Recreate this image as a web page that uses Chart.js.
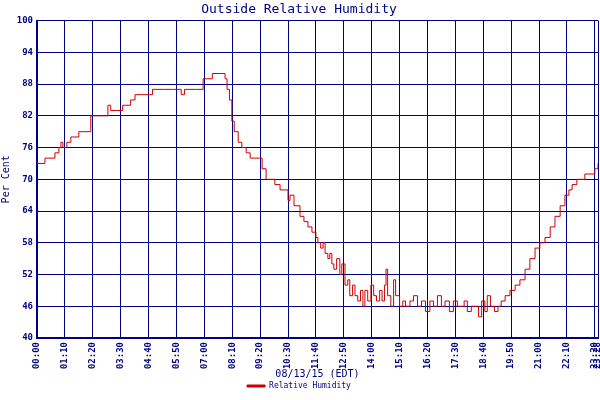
<!DOCTYPE html>
<html>
<head>
<meta charset="utf-8">
<script src="https://cdn.jsdelivr.net/npm/chart.js@4"></script>
<style>
  body { margin: 0; background: #fff; }
  #wrap { width: 600px; height: 400px; }
</style>
</head>
<body>
<div id="wrap"><canvas id="humChart"></canvas></div>
<script>
// minutes after midnight, 08/13/15
const minutes = [0, 10, 20, 30, 45, 55, 60, 65, 75, 85, 95, 105, 120, 135, 140, 160, 170, 178, 185, 200, 215, 222, 235, 246, 260, 283, 290, 320, 340, 359, 362, 370, 384, 400, 417, 425, 440, 459, 465, 472, 477, 483, 489, 495, 505, 514, 525, 535, 550, 558, 565, 575, 585, 597, 610, 622, 630, 635, 645, 660, 670, 680, 690, 700, 705, 712, 718, 723, 730, 735, 740, 745, 752, 760, 765, 773, 780, 785, 792, 798, 805, 812, 818, 823, 830, 838, 845, 852, 860, 866, 872, 876, 880, 888, 895, 900, 910, 918, 925, 936, 945, 955, 965, 975, 986, 995, 1005, 1015, 1024, 1035, 1045, 1055, 1062, 1072, 1080, 1090, 1099, 1108, 1116, 1124, 1130, 1138, 1148, 1157, 1165, 1175, 1187, 1200, 1212, 1225, 1237, 1250, 1262, 1275, 1288, 1300, 1313, 1325, 1335, 1343, 1355, 1363, 1375, 1383, 1393, 1400, 1404, 1408];
const humidity = [73, 73, 74, 74, 75, 76, 77, 76, 77, 78, 78, 79, 79, 82, 82, 82, 82, 84, 83, 83, 84, 84, 85, 86, 86, 86, 87, 87, 87, 87, 86, 87, 87, 87, 89, 89, 90, 90, 90, 89, 87, 85, 81, 79, 77, 76, 75, 74, 74, 74, 72, 70, 70, 69, 68, 68, 66, 67, 65, 63, 62, 61, 60, 59, 58, 57, 58, 56, 55, 56, 54, 53, 55, 52, 54, 50, 51, 48, 50, 48, 47, 49, 46, 49, 47, 50, 48, 47, 49, 47, 50, 53, 48, 46, 51, 48, 46, 47, 46, 47, 48, 46, 47, 45, 47, 46, 48, 46, 47, 45, 47, 46, 46, 47, 45, 46, 46, 44, 47, 45, 48, 46, 45, 46, 47, 48, 49, 50, 51, 53, 55, 57, 58, 59, 61, 63, 65, 67, 68, 69, 70, 70, 71, 71, 71, 72, 72, 73];
const xTicks = [0, 70, 140, 210, 280, 350, 420, 490, 560, 630, 700, 770, 840, 910, 980, 1050, 1120, 1190, 1260, 1330, 1400, 1408];
const yTicks = [40, 46, 52, 58, 64, 70, 76, 82, 88, 94, 100];

const navy = '#000080';
const monoBold = { family: '"DejaVu Sans Mono", monospace', size: 9, weight: 'bold' };

function hhmm(m) {
  const h = Math.floor(m / 60), mm = m % 60;
  return String(h).padStart(2, '0') + ':' + String(mm).padStart(2, '0');
}

const ctx = document.getElementById('humChart').getContext('2d');
new Chart(ctx, {
  type: 'line',
  data: {
    datasets: [{
      label: 'Relative Humidity',
      data: minutes.map((m, i) => ({ x: m, y: humidity[i] })),
      borderColor: '#cc0000',
      backgroundColor: '#cc0000',
      borderWidth: 1,
      pointRadius: 0,
      stepped: true,
      fill: false
    }]
  },
  options: {
    responsive: true,
    maintainAspectRatio: false,
    animation: false,
    layout: { padding: { top: 0, right: 2, bottom: 0, left: 0 } },
    plugins: {
      title: {
        display: true,
        text: 'Outside Relative Humidity',
        color: navy,
        font: { family: '"DejaVu Sans Mono", monospace', size: 13, weight: 'normal' },
        padding: { top: 2, bottom: 3 }
      },
      legend: {
        position: 'bottom',
        labels: {
          color: navy,
          font: { family: '"DejaVu Sans Mono", monospace', size: 8 },
          boxWidth: 18,
          boxHeight: 2,
          padding: 2
        }
      },
      tooltip: { enabled: false }
    },
    scales: {
      x: {
        type: 'linear',
        min: 0,
        max: 1408,
        afterBuildTicks: axis => { axis.ticks = xTicks.map(v => ({ value: v })); },
        afterFit: axis => { axis.height = 42; axis.paddingLeft = 0; axis.paddingRight = 0; },
        grid: { color: navy, lineWidth: 1, drawTicks: false },
        border: { color: navy, width: 2 },
        title: {
          display: true,
          text: '08/13/15 (EDT)',
          color: navy,
          font: { family: '"DejaVu Sans Mono", monospace', size: 10 },
          padding: 0
        },
        ticks: {
          color: navy,
          font: monoBold,
          maxRotation: 90,
          minRotation: 90,
          autoSkip: false,
          padding: 4,
          callback: v => hhmm(v)
        }
      },
      y: {
        min: 40,
        max: 100,
        afterBuildTicks: axis => { axis.ticks = yTicks.map(v => ({ value: v })); },
        afterFit: axis => { axis.width = 37; },
        grid: { color: navy, lineWidth: 1, drawTicks: false },
        border: { color: navy, width: 2 },
        title: {
          display: true,
          text: 'Per Cent',
          color: navy,
          font: { family: '"DejaVu Sans Mono", monospace', size: 10 },
          padding: 0
        },
        ticks: { color: navy, font: monoBold, padding: 4 }
      }
    }
  }
});
</script>
</body>
</html>
